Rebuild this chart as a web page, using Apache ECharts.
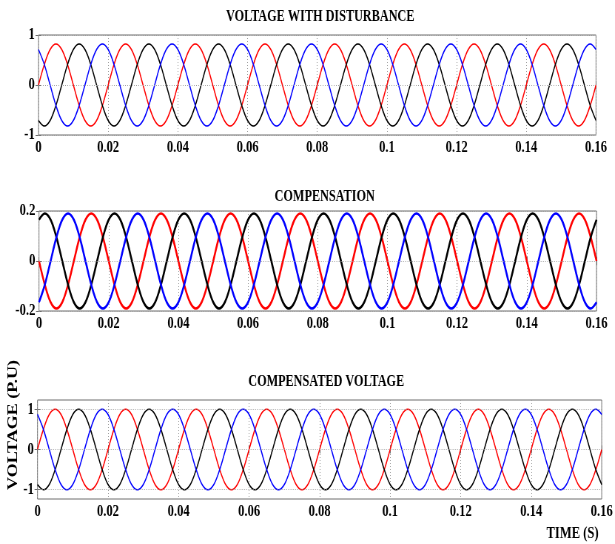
<!DOCTYPE html>
<html>
<head>
<meta charset="utf-8">
<script src="https://cdn.jsdelivr.net/npm/echarts@6/dist/echarts.min.js"></script>
<style>
html,body{margin:0;padding:0;background:#fff;overflow:hidden;width:615px;height:544px;}
#c{width:831px;height:544px;transform:scaleX(0.74);transform-origin:0 0;}
</style>
</head>
<body>
<div id="c"></div>
<script>
// time samples (s)
const T = [
0,0.001667,0.003333,0.005,0.006667,0.008333,0.01,0.011667,0.013333,0.015,0.016667,0.018333,
0.02,0.021667,0.023333,0.025,0.026667,0.028333,0.03,0.031667,0.033333,0.035,0.036667,0.038333,
0.04,0.041667,0.043333,0.045,0.046667,0.048333,0.05,0.051667,0.053333,0.055,0.056667,0.058333,
0.06,0.061667,0.063333,0.065,0.066667,0.068333,0.07,0.071667,0.073333,0.075,0.076667,0.078333,
0.08,0.081667,0.083333,0.085,0.086667,0.088333,0.09,0.091667,0.093333,0.095,0.096667,0.098333,
0.1,0.101667,0.103333,0.105,0.106667,0.108333,0.11,0.111667,0.113333,0.115,0.116667,0.118333,
0.12,0.121667,0.123333,0.125,0.126667,0.128333,0.13,0.131667,0.133333,0.135,0.136667,0.138333,
0.14,0.141667,0.143333,0.145,0.146667,0.148333,0.15,0.151667,0.153333,0.155,0.156667,0.158333,
0.16];

// VOLTAGE WITH DISTURBANCE
const topRed = [
0,.41,.71,.82,.71,.41,0,-.41,-.71,-.82,-.71,-.41,
0,.41,.71,.82,.71,.41,0,-.41,-.71,-.82,-.71,-.41,
0,.41,.71,.82,.71,.41,0,-.41,-.71,-.82,-.71,-.41,
0,.41,.71,.82,.71,.41,0,-.41,-.71,-.82,-.71,-.41,
0,.41,.71,.82,.71,.41,0,-.41,-.71,-.82,-.71,-.41,
0,.41,.71,.82,.71,.41,0,-.41,-.71,-.82,-.71,-.41,
0,.41,.71,.82,.71,.41,0,-.41,-.71,-.82,-.71,-.41,
0,.41,.71,.82,.71,.41,0,-.41,-.71,-.82,-.71,-.41,
0];
const topBlack = [
-.71,-.82,-.71,-.41,0,.41,.71,.82,.71,.41,0,-.41,
-.71,-.82,-.71,-.41,0,.41,.71,.82,.71,.41,0,-.41,
-.71,-.82,-.71,-.41,0,.41,.71,.82,.71,.41,0,-.41,
-.71,-.82,-.71,-.41,0,.41,.71,.82,.71,.41,0,-.41,
-.71,-.82,-.71,-.41,0,.41,.71,.82,.71,.41,0,-.41,
-.71,-.82,-.71,-.41,0,.41,.71,.82,.71,.41,0,-.41,
-.71,-.82,-.71,-.41,0,.41,.71,.82,.71,.41,0,-.41,
-.71,-.82,-.71,-.41,0,.41,.71,.82,.71,.41,0,-.41,
-.71];
const topBlue = [
.71,.41,0,-.41,-.71,-.82,-.71,-.41,0,.41,.71,.82,
.71,.41,0,-.41,-.71,-.82,-.71,-.41,0,.41,.71,.82,
.71,.41,0,-.41,-.71,-.82,-.71,-.41,0,.41,.71,.82,
.71,.41,0,-.41,-.71,-.82,-.71,-.41,0,.41,.71,.82,
.71,.41,0,-.41,-.71,-.82,-.71,-.41,0,.41,.71,.82,
.71,.41,0,-.41,-.71,-.82,-.71,-.41,0,.41,.71,.82,
.71,.41,0,-.41,-.71,-.82,-.71,-.41,0,.41,.71,.82,
.71,.41,0,-.41,-.71,-.82,-.71,-.41,0,.41,.71,.82,
.71];

// COMPENSATION
const midRed = [
0,-.095,-.165,-.19,-.165,-.095,0,.095,.165,.19,.165,.095,
0,-.095,-.165,-.19,-.165,-.095,0,.095,.165,.19,.165,.095,
0,-.095,-.165,-.19,-.165,-.095,0,.095,.165,.19,.165,.095,
0,-.095,-.165,-.19,-.165,-.095,0,.095,.165,.19,.165,.095,
0,-.095,-.165,-.19,-.165,-.095,0,.095,.165,.19,.165,.095,
0,-.095,-.165,-.19,-.165,-.095,0,.095,.165,.19,.165,.095,
0,-.095,-.165,-.19,-.165,-.095,0,.095,.165,.19,.165,.095,
0,-.095,-.165,-.19,-.165,-.095,0,.095,.165,.19,.165,.095,
0];
const midBlack = [
.165,.19,.165,.095,0,-.095,-.165,-.19,-.165,-.095,0,.095,
.165,.19,.165,.095,0,-.095,-.165,-.19,-.165,-.095,0,.095,
.165,.19,.165,.095,0,-.095,-.165,-.19,-.165,-.095,0,.095,
.165,.19,.165,.095,0,-.095,-.165,-.19,-.165,-.095,0,.095,
.165,.19,.165,.095,0,-.095,-.165,-.19,-.165,-.095,0,.095,
.165,.19,.165,.095,0,-.095,-.165,-.19,-.165,-.095,0,.095,
.165,.19,.165,.095,0,-.095,-.165,-.19,-.165,-.095,0,.095,
.165,.19,.165,.095,0,-.095,-.165,-.19,-.165,-.095,0,.095,
.165];
const midBlue = [
-.165,-.095,0,.095,.165,.19,.165,.095,0,-.095,-.165,-.19,
-.165,-.095,0,.095,.165,.19,.165,.095,0,-.095,-.165,-.19,
-.165,-.095,0,.095,.165,.19,.165,.095,0,-.095,-.165,-.19,
-.165,-.095,0,.095,.165,.19,.165,.095,0,-.095,-.165,-.19,
-.165,-.095,0,.095,.165,.19,.165,.095,0,-.095,-.165,-.19,
-.165,-.095,0,.095,.165,.19,.165,.095,0,-.095,-.165,-.19,
-.165,-.095,0,.095,.165,.19,.165,.095,0,-.095,-.165,-.19,
-.165,-.095,0,.095,.165,.19,.165,.095,0,-.095,-.165,-.19,
-.165];

// COMPENSATED VOLTAGE
const botRed = [
0,.5,.87,1,.87,.5,0,-.5,-.87,-1,-.87,-.5,
0,.5,.87,1,.87,.5,0,-.5,-.87,-1,-.87,-.5,
0,.5,.87,1,.87,.5,0,-.5,-.87,-1,-.87,-.5,
0,.5,.87,1,.87,.5,0,-.5,-.87,-1,-.87,-.5,
0,.5,.87,1,.87,.5,0,-.5,-.87,-1,-.87,-.5,
0,.5,.87,1,.87,.5,0,-.5,-.87,-1,-.87,-.5,
0,.5,.87,1,.87,.5,0,-.5,-.87,-1,-.87,-.5,
0,.5,.87,1,.87,.5,0,-.5,-.87,-1,-.87,-.5,
0];
const botBlack = [
-.87,-1,-.87,-.5,0,.5,.87,1,.87,.5,0,-.5,
-.87,-1,-.87,-.5,0,.5,.87,1,.87,.5,0,-.5,
-.87,-1,-.87,-.5,0,.5,.87,1,.87,.5,0,-.5,
-.87,-1,-.87,-.5,0,.5,.87,1,.87,.5,0,-.5,
-.87,-1,-.87,-.5,0,.5,.87,1,.87,.5,0,-.5,
-.87,-1,-.87,-.5,0,.5,.87,1,.87,.5,0,-.5,
-.87,-1,-.87,-.5,0,.5,.87,1,.87,.5,0,-.5,
-.87,-1,-.87,-.5,0,.5,.87,1,.87,.5,0,-.5,
-.87];
const botBlue = [
.87,.5,0,-.5,-.87,-1,-.87,-.5,0,.5,.87,1,
.87,.5,0,-.5,-.87,-1,-.87,-.5,0,.5,.87,1,
.87,.5,0,-.5,-.87,-1,-.87,-.5,0,.5,.87,1,
.87,.5,0,-.5,-.87,-1,-.87,-.5,0,.5,.87,1,
.87,.5,0,-.5,-.87,-1,-.87,-.5,0,.5,.87,1,
.87,.5,0,-.5,-.87,-1,-.87,-.5,0,.5,.87,1,
.87,.5,0,-.5,-.87,-1,-.87,-.5,0,.5,.87,1,
.87,.5,0,-.5,-.87,-1,-.87,-.5,0,.5,.87,1,
.87];

const titles = ['VOLTAGE WITH DISTURBANCE', 'COMPENSATION', 'COMPENSATED VOLTAGE'];
const yTicksTop = [-1, 0, 1];
const yTicksMid = [-0.2, 0, 0.2];
const yTicksBot = [-1, 0, 1];

const S = 0.74; // horizontal squeeze of the original figure
const FONT = '"Liberation Serif", "Times New Roman", serif';
const lblStyle = {fontFamily: FONT, fontWeight: 'bold', fontSize: 17, color: '#000'};

const panels = [
  {left: 38.5, right: 596, top: 35, height: 100, ymin: -1, ymax: 1, yint: 1, yticks: yTicksTop,
   series: [topRed, topBlack, topBlue], lw: 1.5, titleX: 316.5, titleY: 15.5},
  {left: 39, right: 596.5, top: 211, height: 100, ymin: -0.2, ymax: 0.2, yint: 0.2, yticks: yTicksMid,
   series: [midRed, midBlack, midBlue], lw: 2.5, titleX: 321, titleY: 195},
  {left: 37.5, right: 604.5, top: 400, height: 99, ymin: -1.23, ymax: 1.23, yint: null, yticks: yTicksBot,
   series: [botRed, botBlack, botBlue], lw: 1.5, titleX: 322.5, titleY: 380}
];
const colors = ['#ff0000', '#000000', '#0000ff'];

const grid = [], xAxis = [], yAxis = [], series = [], title = [];
panels.forEach((p, i) => {
  grid.push({left: p.left / S, top: p.top, width: (p.right - p.left) / S, height: p.height,
    show: true, borderColor: '#6e6e6e', borderWidth: 1, backgroundColor: 'transparent'});
  const xBase = {type: 'value', gridIndex: i, min: 0, max: 0.16, interval: 0.02,
    axisLine: {show: false}, axisTick: {inside: true, length: 4, lineStyle: {color: '#6e6e6e'}}};
  xAxis.push(Object.assign({}, xBase, {position: 'bottom',
    axisLabel: Object.assign({margin: 4}, lblStyle),
    splitLine: {show: true, lineStyle: {type: [1, 2], color: '#9a9a9a', width: 1}}}));
  xAxis.push(Object.assign({}, xBase, {position: 'top', axisLabel: {show: false}, splitLine: {show: false}}));
  const yBase = {type: 'value', gridIndex: i, min: p.ymin, max: p.ymax,
    axisLine: {show: false}, splitLine: {show: false}};
  if (p.yint) yBase.interval = p.yint;
  const tick = {inside: true, length: 4, lineStyle: {color: '#6e6e6e'}};
  const lab = Object.assign({margin: 5}, lblStyle);
  if (!p.yint) { tick.customValues = p.yticks; lab.customValues = p.yticks; }
  yAxis.push(Object.assign({}, yBase, {position: 'left', axisTick: tick, axisLabel: lab}));
  yAxis.push(Object.assign({}, yBase, {position: 'right', axisTick: tick, axisLabel: {show: false}}));
  p.series.forEach((arr, k) => {
    const s = {type: 'line', xAxisIndex: 2 * i, yAxisIndex: 2 * i, smooth: 0.35, symbol: 'none',
      animation: false, silent: true,
      lineStyle: {color: colors[k], width: p.lw}, itemStyle: {color: colors[k]},
      data: T.map((t, j) => [t, arr[j]])};
    if (k === 0) {
      s.markLine = {silent: true, symbol: 'none', animation: false, label: {show: false},
        lineStyle: {type: [1, 2], color: '#9a9a9a', width: 1},
        data: p.yticks.map(v => ({yAxis: v}))};
    }
    series.push(s);
  });
  title.push({text: titles[i], left: p.titleX / S, top: p.titleY - 12, textAlign: 'center',
    textStyle: {fontFamily: FONT, fontWeight: 'bold', fontSize: 16.5, color: '#000'}});
});

const chart = echarts.init(document.getElementById('c'), null, {renderer: 'canvas'});
chart.setOption({
  animation: false,
  backgroundColor: '#fff',
  title: title,
  grid: grid, xAxis: xAxis, yAxis: yAxis, series: series,
  graphic: [
    {type: 'text', x: 13.5 / S, y: 425, rotation: Math.PI / 2,
      style: {text: 'VOLTAGE (P.U)', font: 'bold 18px "Liberation Serif"', fill: '#000',
        textAlign: 'center', textVerticalAlign: 'middle'}},
    {type: 'text', x: 572.5 / S, y: 534,
      style: {text: 'TIME (S)', font: 'bold 17px "Liberation Serif"', fill: '#000',
        textAlign: 'center', textVerticalAlign: 'middle'}}
  ]
});
</script>
</body>
</html>
